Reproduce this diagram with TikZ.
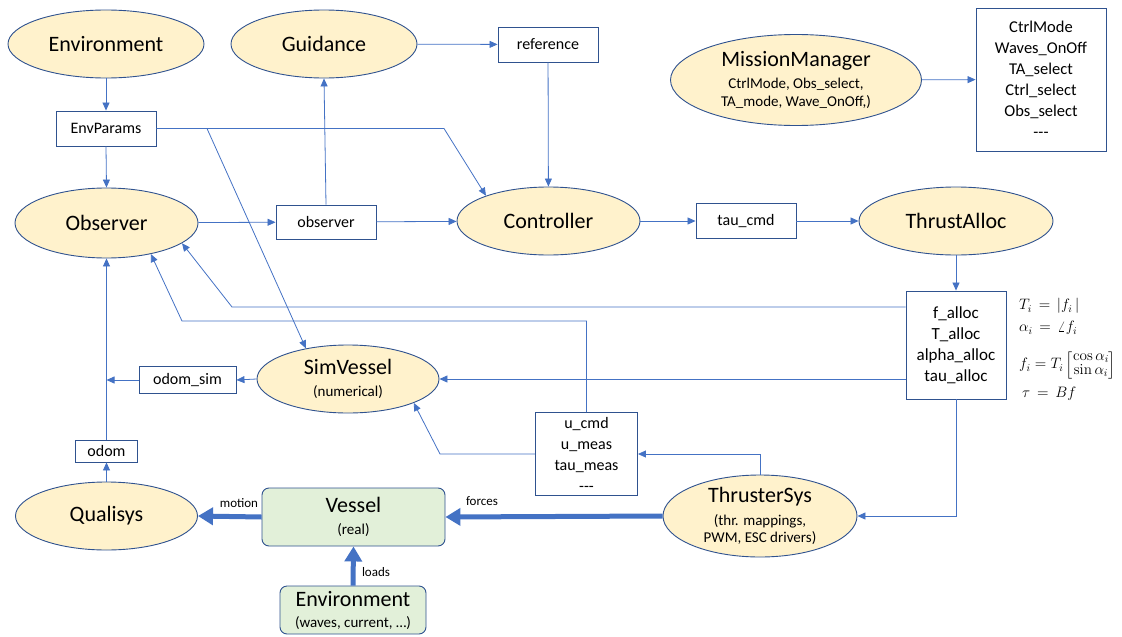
\documentclass[tikz,border=0pt]{standalone}
\usepackage{amsmath}
\usepackage[no-math]{fontspec}
\setmainfont{Carlito}
\usetikzlibrary{shapes.geometric,arrows.meta,calc}
\definecolor{lnblue}{HTML}{4472C4}
\definecolor{edgeblue}{HTML}{2F528F}
\definecolor{yfill}{HTML}{FFF2CC}
\definecolor{gfill}{HTML}{E2F0D9}
\newcommand{\subfont}{\fontsize{15}{17}\selectfont}
\tikzset{
  proc/.style={ellipse, draw=edgeblue, fill=yfill, line width=0.9pt, inner sep=0pt, align=center, font=\fontsize{22}{24}\selectfont},
  sig/.style={rectangle, draw=edgeblue, fill=white, line width=0.9pt, inner sep=0pt, align=center, font=\fontsize{16}{21}\selectfont},
  phys/.style={rectangle, rounded corners=7pt, draw=edgeblue, fill=gfill, line width=0.9pt, inner sep=0pt, align=center, font=\fontsize{22}{24}\selectfont},
  conn/.style={draw=lnblue, line width=0.8pt, -{Triangle[length=8pt,width=7pt]}},
  bigarrow/.style={draw=lnblue, line width=5pt, -{Triangle[length=15pt,width=17pt]}},
  lbl/.style={font=\fontsize{13}{15}\selectfont, inner sep=0pt},
  eqn/.style={anchor=west, inner sep=0pt, scale=1.05, font=\fontsize{14.4}{17}\selectfont}
}
\begin{document}
\begin{tikzpicture}[x=1pt,y=-1pt]
\useasboundingbox (0,0) rectangle (1122,637);
% nodes
\node[proc, minimum width=196pt, minimum height=68pt] (envT) at (106,44) {Environment};
\node[proc, minimum width=186pt, minimum height=68pt] (guid) at (324,44) {Guidance};
\node[sig, minimum width=100pt, minimum height=35pt] (ref) at (548,44.5) {reference};
\node[proc, minimum width=251pt, minimum height=91pt] (mm) at (796,80) {MissionManager\\[-2pt]{\subfont CtrlMode, Obs\_select,}\\[-6pt]{\subfont TA\_mode, Wave\_OnOff,)}};
\node[sig, minimum width=130pt, minimum height=143pt, font=\fontsize{16.5}{21}\selectfont] (mmbox) at (1041,79.5) {CtrlMode\\Waves\_OnOff\\TA\_select\\Ctrl\_select\\Obs\_select\\-{}-{}-};
\node[sig, minimum width=100pt, minimum height=35pt] (envp) at (106,128.5) {EnvParams};
\node[proc, minimum width=183pt, minimum height=70pt] (obs) at (106.5,223) {Observer};
\node[sig, minimum width=100pt, minimum height=34pt] (obsb) at (326,222) {observer};
\node[proc, minimum width=183pt, minimum height=68pt] (ctrl) at (548.5,221) {Controller};
\node[sig, minimum width=100pt, minimum height=35pt] (tau) at (746,221) {tau\_cmd};
\node[proc, minimum width=194pt, minimum height=68pt] (ta) at (956,221) {ThrustAlloc};
\node[sig, minimum width=100pt, minimum height=108pt, font=\fontsize{17}{21}\selectfont] (falloc) at (956,345) {f\_alloc\\T\_alloc\\alpha\_alloc\\tau\_alloc};
\node[proc, minimum width=182pt, minimum height=68pt] (sim) at (348,379) {SimVessel\\[-2pt]{\subfont (numerical)}};
\node[sig, minimum width=97pt, minimum height=27pt] (odomsim) at (187.5,380) {odom\_sim};
\node[sig, minimum width=62pt, minimum height=22pt] (odom) at (106.5,451) {odom};
\node[sig, minimum width=102pt, minimum height=83pt] (umeas) at (586.5,454) {u\_cmd\\u\_meas\\tau\_meas\\-{}-{}-};
\node[proc, minimum width=182pt, minimum height=68pt] (qual) at (106.5,516) {Qualisys};
\node[phys, minimum width=183pt, minimum height=58pt] (vessel) at (353.5,517) {Vessel\\[-2pt]{\subfont (real)}};
\node[proc, minimum width=194pt, minimum height=82pt] (thr) at (760,516) {ThrusterSys\\[-1pt]{\subfont (thr. mappings,}\\[-7pt]{\subfont PWM, ESC drivers)}};
\node[phys, minimum width=146pt, minimum height=48pt] (envb) at (353,610) {Environment\\[-3pt]{\subfont (waves, current, \ldots)}};
% equations
\node[eqn] (eq1) at (1019,306) {$T_i \,=\, |f_i\,|$};
\node[eqn] (eq2) at (1019,328) {$\alpha_i \,=\, \angle f_i$};
\node[eqn] (eq3) at (1019,365) {\setlength{\arraycolsep}{1pt}\renewcommand{\arraystretch}{0.75}$f_i = T_i\begin{bmatrix}\cos\alpha_i\\ \sin\alpha_i\end{bmatrix}$};
\node[eqn] (eq4) at (1022,394) {$\tau \,=\, Bf$};
% labels
\node[lbl] (lmotion) at (239,503) {motion};
\node[lbl] (lforces) at (482,501) {forces};
\node[lbl] (lloads) at (376,572) {loads};
% bend coordinates
\coordinate (b1) at (444,128.5);
\coordinate (b2) at (207,128.5);
\coordinate (c1) at (232,307);
\coordinate (c2) at (182,321);
\coordinate (c3) at (440,454);
\coordinate (c4) at (106.5,380);
% connectors
\draw[conn] (envT.south) -- (envp.north);
\draw[conn] (envp.south) -- (obs.north);
\draw[conn] (envp.east) -- (b1) -- (ctrl.158);
\draw[conn] (b2) -- (sim.144);
\draw[conn] (obs) -- (obsb);
\draw[conn] (obsb.north) -- (guid.south);
\draw[conn] (obsb) -- (ctrl);
\draw[conn] (guid) -- (ref);
\draw[conn] (ref) -- (ctrl);
\draw[conn] (ctrl) -- (tau);
\draw[conn] (tau) -- (ta);
\draw[conn] (ta) -- (falloc);
\draw[conn] (mm) -- (mmbox);
\draw[conn] ([yshift=38pt]falloc.west) -- (c1) -- (obs.-15);
\draw[conn] (umeas.north) -- (umeas.north |- c2) -- (c2) -- (obs.-35);
\draw[conn] (falloc.west |- sim.east) -- (sim.east);
\draw[conn] (umeas.west) -- (c3) -- (sim.-20);
\draw[conn] (thr.north) -- (thr.north |- umeas.east) -- (umeas.east);
\draw[conn] (falloc.south) -- (falloc.south |- thr.east) -- (thr.east);
\draw[conn] (qual.north) -- (odom.south);
\draw[conn] (odom.north) -- (obs.south);
\draw[conn] (odomsim.west) -- (c4);
\draw[conn] (sim.west) -- (odomsim.east);
\draw[bigarrow] (thr.west) -- (vessel.east);
\draw[bigarrow] (vessel.west) -- (qual.east);
\draw[bigarrow] (envb.north) -- (vessel.south);
\end{tikzpicture}
\end{document}
